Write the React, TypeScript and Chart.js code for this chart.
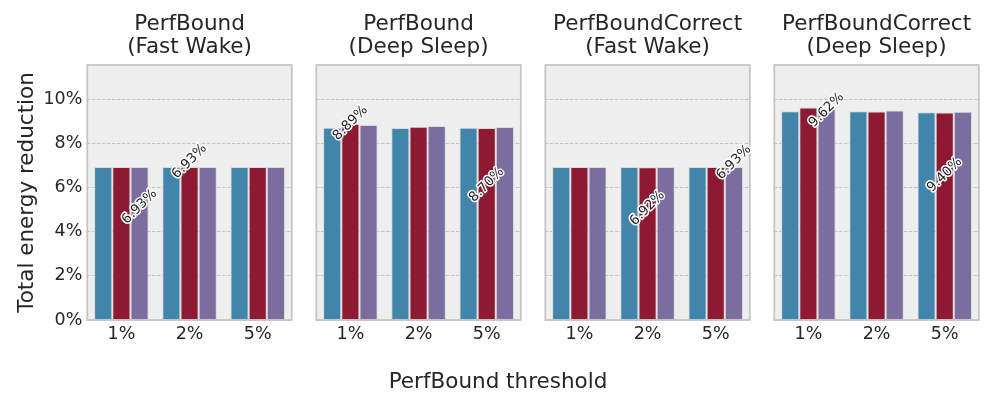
import React, { useEffect, useRef } from 'react';
import { Chart, registerables } from 'chart.js';

Chart.register(...registerables);

// ---------------- DATA ----------------
const categories = ['1%', '2%', '5%'];
const seriesNames = ['Variant A', 'Variant B', 'Variant C'];
const yTickValues = [0, 2, 4, 6, 8, 10];
const yMax = 11.55;

const panelTitles = [
  ['PerfBound', '(Fast Wake)'],
  ['PerfBound', '(Deep Sleep)'],
  ['PerfBoundCorrect', '(Fast Wake)'],
  ['PerfBoundCorrect', '(Deep Sleep)'],
];

// each: [series A, series B, series C] x categories
const perfBoundFastWake = [
  [6.93, 6.93, 6.93],
  [6.93, 6.93, 6.93],
  [6.93, 6.93, 6.93],
];
const perfBoundDeepSleep = [
  [8.71, 8.70, 8.71],
  [8.89, 8.75, 8.70],
  [8.83, 8.79, 8.74],
];
const perfBoundCorrectFastWake = [
  [6.93, 6.93, 6.93],
  [6.93, 6.92, 6.93],
  [6.93, 6.93, 6.93],
];
const perfBoundCorrectDeepSleep = [
  [9.46, 9.46, 9.41],
  [9.62, 9.44, 9.40],
  [9.57, 9.49, 9.43],
];
const panelValues = [perfBoundFastWake, perfBoundDeepSleep, perfBoundCorrectFastWake, perfBoundCorrectDeepSleep];

// annotations: [panel, series, category, text]
const annotationTexts: [number, number, number, string][] = [
  [0, 2, 0, '6.93%'],
  [0, 1, 1, '6.93%'],
  [1, 1, 0, '8.89%'],
  [1, 1, 2, '8.70%'],
  [2, 1, 1, '6.92%'],
  [2, 2, 2, '6.93%'],
  [3, 2, 0, '9.62%'],
  [3, 1, 2, '9.40%'],
];
// vertical anchor (in axis units) of each annotation label, same order
const annotationAnchorY = [5.13, 7.18, 8.92, 6.12, 5.06, 7.14, 9.51, 6.57];

// ---------------- STYLE / LAYOUT ----------------
const FONT = 'DejaVu Sans';
const TEXT = '#262626';
const COLORS = ['#4285AA', '#8E1933', '#7B6E9E'];
const W = 996;
const H = 399;
const PANEL_LEFTS = [87.3, 316.3, 545.3, 774.3];
const PANEL_W = 204.5;
const PLOT_BOTTOM = 320;
const XSCALE_H = 25;

function makePlugins(panel: number) {
  const bg = {
    id: 'panelBg' + panel,
    beforeDraw(chart: any) {
      const { ctx, chartArea } = chart;
      ctx.save();
      ctx.fillStyle = '#EEEEEE';
      ctx.fillRect(chartArea.left, chartArea.top, chartArea.width, chartArea.height);
      ctx.restore();
    },
    afterDatasetsDraw(chart: any) {
      const { ctx, chartArea } = chart;
      ctx.save();
      ctx.strokeStyle = '#C4C4C4';
      ctx.lineWidth = 1.75;
      ctx.strokeRect(chartArea.left, chartArea.top, chartArea.width, chartArea.height);
      // annotations
      annotationTexts.forEach((a, i) => {
        if (a[0] !== panel) return;
        const el = chart.getDatasetMeta(a[1]).data[a[2]];
        if (!el) return;
        const x = el.x;
        const y = chart.scales.y.getPixelForValue(annotationAnchorY[i]);
        ctx.save();
        ctx.translate(x, y);
        ctx.rotate(-Math.PI / 4);
        ctx.font = `13.5px "${FONT}"`;
        ctx.textAlign = 'center';
        ctx.textBaseline = 'middle';
        ctx.lineJoin = 'round';
        ctx.strokeStyle = '#FFFFFF';
        ctx.lineWidth = 3;
        ctx.strokeText(a[3], 0, 0);
        ctx.fillStyle = '#1E1E1E';
        ctx.fillText(a[3], 0, 0);
        ctx.restore();
      });
      ctx.restore();
    },
  };
  const plugins: any[] = [bg];
  if (panel === 0) {
    plugins.push({
      id: 'supXLabel',
      afterDraw(chart: any) {
        const { ctx } = chart;
        ctx.save();
        ctx.font = `21.5px "${FONT}"`;
        ctx.fillStyle = TEXT;
        ctx.textAlign = 'center';
        ctx.textBaseline = 'middle';
        ctx.fillText('PerfBound threshold', chart.width / 2, 382);
        ctx.restore();
      },
    });
  }
  return plugins;
}

function makeConfig(panel: number): any {
  const values = panelValues[panel];
  const left = PANEL_LEFTS[panel];
  const right = W - (left + PANEL_W);
  const first = panel === 0;
  return {
    type: 'bar',
    data: {
      labels: categories,
      datasets: values.map((vals, s) => ({
        label: seriesNames[s],
        data: vals,
        backgroundColor: COLORS[s],
        borderColor: '#DADADA',
        borderWidth: 1,
        categoryPercentage: 0.8,
        barPercentage: 1.0,
      })),
    },
    plugins: makePlugins(panel),
    options: {
      responsive: false,
      animation: false,
      devicePixelRatio: 1,
      layout: {
        padding: {
          left: first ? 0 : left,
          right: right,
          top: 0,
          bottom: H - PLOT_BOTTOM - XSCALE_H,
        },
      },
      plugins: {
        legend: { display: false },
        tooltip: { enabled: false },
        title: {
          display: true,
          text: panelTitles[panel],
          fullSize: false,
          color: TEXT,
          font: { family: FONT, size: 21.5, weight: 'normal', lineHeight: 23.3 / 21.5 },
          padding: { top: 12.35, bottom: 6.05 },
        },
      },
      scales: {
        x: {
          type: 'category',
          offset: true,
          grid: { display: false, drawTicks: false },
          border: { display: false },
          ticks: {
            color: TEXT,
            padding: 4,
            font: { family: FONT, size: 17.5 },
            maxRotation: 0,
          },
          afterFit(scale: any) {
            scale.height = XSCALE_H;
          },
        },
        y: {
          type: 'linear',
          min: 0,
          max: yMax,
          afterBuildTicks(scale: any) {
            scale.ticks = yTickValues.map((v) => ({ value: v }));
          },
          grid: {
            display: true,
            drawTicks: false,
            color: '#BDBDBD',
            lineWidth: 0.9,
          },
          border: { display: false, dash: [3.5, 1.5] },
          ticks: {
            display: first,
            color: TEXT,
            padding: 5,
            font: { family: FONT, size: 17.5 },
            callback: (v: any) => `${v}%`,
          },
          title: {
            display: first,
            text: 'Total energy reduction',
            color: TEXT,
            font: { family: FONT, size: 21.5, weight: 'normal', lineHeight: 1.2 },
            padding: { top: 14.1, bottom: 0 },
          },
          afterFit(scale: any) {
            scale.width = first ? left : 0;
          },
        },
      },
    },
  };
}

export default function App() {
  const refs = [useRef<HTMLCanvasElement>(null), useRef<HTMLCanvasElement>(null), useRef<HTMLCanvasElement>(null), useRef<HTMLCanvasElement>(null)];

  useEffect(() => {
    const charts = refs.map((r, i) => new Chart(r.current as HTMLCanvasElement, makeConfig(i)));
    return () => charts.forEach((c) => c.destroy());
  }, []);

  return (
    <div style={{ position: 'fixed', left: 0, top: 0, width: W, height: H, background: '#FFFFFF' }}>
      {refs.map((r, i) => (
        <canvas
          key={i}
          ref={r}
          width={W}
          height={H}
          style={{ position: 'absolute', left: 0, top: 0, width: W, height: H }}
        />
      ))}
    </div>
  );
}
